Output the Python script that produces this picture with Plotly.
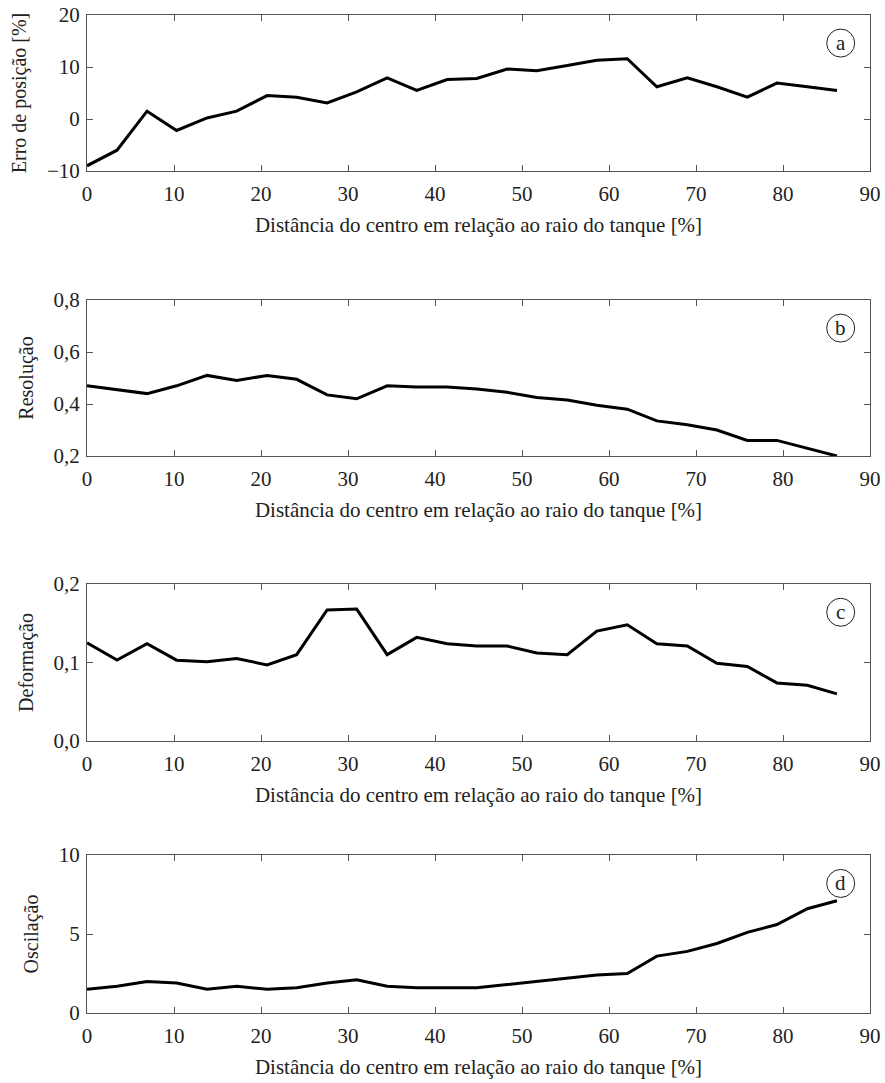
import plotly.graph_objects as go

distancia = [0, 3.45, 6.9, 10.3, 13.8, 17.2, 20.7, 24.1, 27.6, 31.0, 34.5, 37.9, 41.4,
             44.8, 48.3, 51.7, 55.2, 58.6, 62.1, 65.5, 69.0, 72.4, 75.9, 79.3, 82.8, 86.2]

erro_posicao = [-9.0, -6.0, 1.5, -2.2, 0.2, 1.5, 4.5, 4.2, 3.1, 5.2, 7.9, 5.5, 7.6,
                7.8, 9.6, 9.3, 10.3, 11.3, 11.6, 6.2, 7.9, 6.2, 4.2, 6.9, 6.2, 5.5]

resolucao = [0.47, 0.455, 0.44, 0.47, 0.51, 0.49, 0.51, 0.495, 0.435, 0.42, 0.47, 0.465, 0.465,
             0.458, 0.445, 0.425, 0.415, 0.395, 0.38, 0.335, 0.32, 0.30, 0.26, 0.26, 0.23, 0.20]

deformacao = [0.125, 0.103, 0.124, 0.103, 0.101, 0.105, 0.097, 0.110, 0.167, 0.168, 0.110, 0.132, 0.124,
              0.121, 0.121, 0.112, 0.110, 0.140, 0.148, 0.124, 0.121, 0.099, 0.095, 0.074, 0.071, 0.060]

oscilacao = [1.5, 1.7, 2.0, 1.9, 1.5, 1.7, 1.5, 1.6, 1.9, 2.1, 1.7, 1.6, 1.6,
             1.6, 1.8, 2.0, 2.2, 2.4, 2.5, 3.6, 3.9, 4.4, 5.1, 5.6, 6.6, 7.1]

x_ticks = [0, 10, 20, 30, 40, 50, 60, 70, 80, 90]
x_title = "Distância do centro em relação ao raio do tanque [%]"

panels = [
    dict(y=erro_posicao, title="Erro de posição [%]", rng=[-10, 20],
         tickvals=[-10, 0, 10, 20], ticktext=["\u221210", "0", "10", "20"], label="a"),
    dict(y=resolucao, title="Resolução", rng=[0.2, 0.8],
         tickvals=[0.2, 0.4, 0.6, 0.8], ticktext=["0,2", "0,4", "0,6", "0,8"], label="b"),
    dict(y=deformacao, title="Deformação", rng=[0.0, 0.2],
         tickvals=[0.0, 0.1, 0.2], ticktext=["0,0", "0,1", "0,2"], label="c"),
    dict(y=oscilacao, title="Oscilação", rng=[0, 10],
         tickvals=[0, 5, 10], ticktext=["0", "5", "10"], label="d"),
]

W = 885
H = 1083
# screen pixel extents of each plot area (top, bottom)
pix_y = [(15, 171), (300, 456), (584, 741), (855, 1013)]
x_left, x_right = 87, 870
x_dom = [x_left / W, x_right / W]

fnt = dict(family="Liberation Serif", size=21, color="#222")
fnt_y = dict(family="Liberation Serif", size=20, color="#222")
axis_color = "#555"

fig = go.Figure()
layout = dict(
    width=W, height=H,
    margin=dict(l=0, r=0, t=0, b=0, pad=0, autoexpand=False),
    paper_bgcolor="white", plot_bgcolor="white",
    showlegend=False, font=fnt,
)
shapes = []
annotations = []

for i, p in enumerate(panels):
    n = "" if i == 0 else str(i + 1)
    top, bot = pix_y[i]
    ydom = [1 - bot / H, 1 - top / H]
    fig.add_trace(go.Scatter(
        x=distancia, y=p["y"], mode="lines",
        line=dict(color="black", width=3),
        xaxis="x" + n, yaxis="y" + n,
    ))
    layout["xaxis" + n] = dict(
        domain=x_dom, anchor="y" + n, range=[0, 90], automargin=False,
        tickvals=x_ticks, ticks="inside", ticklen=6, tickcolor=axis_color,
        showline=True, linecolor=axis_color, linewidth=1, mirror="ticks",
        showgrid=False, zeroline=False, tickfont=fnt, ticklabelstandoff=4,
        ticklabeloverflow="allow",
        title=dict(text=x_title, standoff=12, font=fnt),
    )
    layout["yaxis" + n] = dict(
        domain=ydom, anchor="x" + n, range=p["rng"], automargin=False,
        tickvals=p["tickvals"], ticktext=p["ticktext"],
        ticks="inside", ticklen=6, tickcolor=axis_color,
        showline=True, linecolor=axis_color, linewidth=1, mirror="ticks",
        showgrid=False, zeroline=False, tickfont=fnt, ticklabelstandoff=2,
        ticklabeloverflow="allow",
        title=dict(text=p["title"], standoff=14, font=fnt_y),
    )
    xr = "x" + n + " domain"
    yr = "y" + n + " domain"
    cx = (840.7 - 87) / 783
    cy = 0.82
    rx = 14 / 783
    ry = 14 / (bot - top)
    shapes.append(dict(type="circle", xref=xr, yref=yr,
                       x0=cx - rx, x1=cx + rx, y0=cy - ry, y1=cy + ry,
                       line=dict(color="#222", width=1)))
    annotations.append(dict(text=p["label"], xref=xr, yref=yr, x=cx, y=cy,
                            showarrow=False, xanchor="center", yanchor="middle",
                            font=fnt))

layout["shapes"] = shapes
layout["annotations"] = annotations
fig.update_layout(**layout)
fig.write_html("out.html",
               config={"displayModeBar": False},
               post_script="document.body.style.margin='0';document.body.style.overflow='hidden';")
